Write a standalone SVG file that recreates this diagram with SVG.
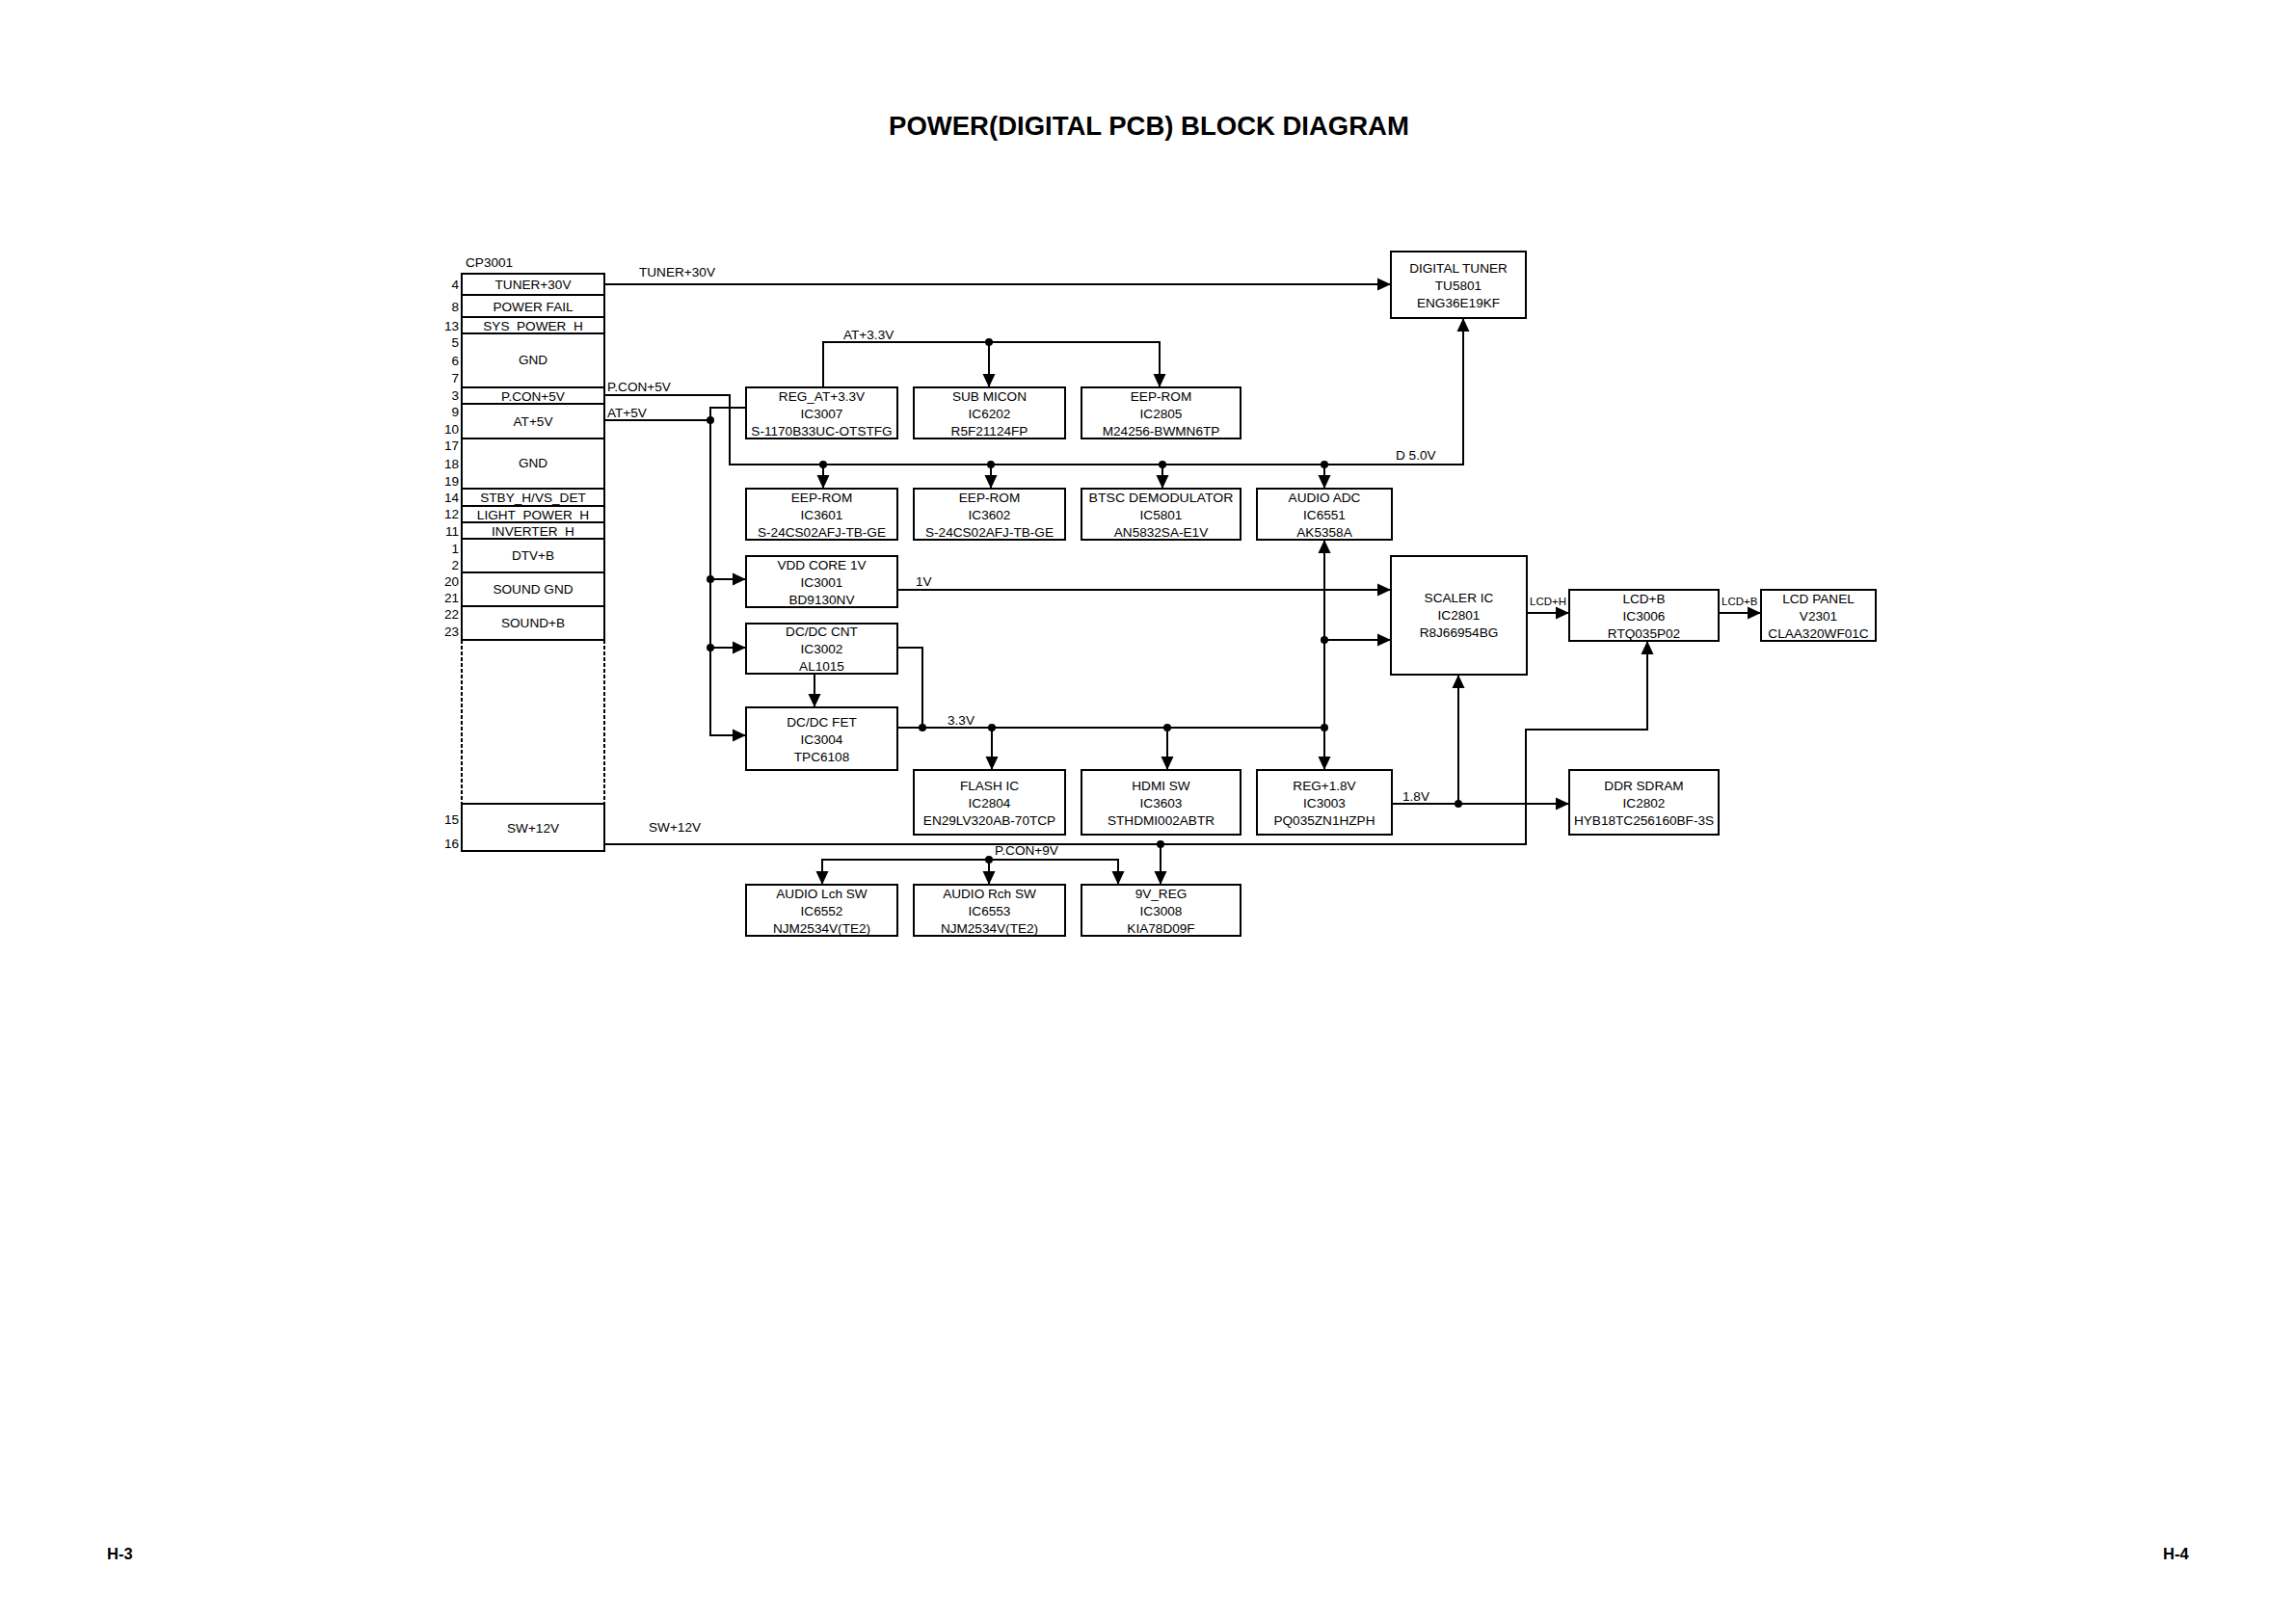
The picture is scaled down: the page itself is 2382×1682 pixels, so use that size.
<svg xmlns="http://www.w3.org/2000/svg" width="2382" height="1682" viewBox="0 0 2382 1682">
<style>
.b{fill:#fff;stroke:#000;stroke-width:2}
text{font-family:"Liberation Sans",Arial,sans-serif;font-size:13.6px;fill:#000}
.m text,.m{text-anchor:middle}
.r{text-anchor:end}
.w{fill:none;stroke:#000;stroke-width:2}
.s{font-size:11.5px}
.h{font-weight:bold}
</style>
<defs>
<marker id="ar" markerWidth="14" markerHeight="14" refX="14" refY="7" orient="auto" markerUnits="userSpaceOnUse"><path d="M0,0.5 L14,7 L0,13.5 z" fill="#000"/></marker>
</defs>
<rect width="2382" height="1682" fill="#fff"/>
<text x="1192" y="140" class="h m" style="font-size:27.5px">POWER(DIGITAL PCB) BLOCK DIAGRAM</text>
<text x="111" y="1618" class="h" style="font-size:16.5px">H-3</text>
<text x="2244" y="1618" class="h" style="font-size:16.5px">H-4</text>

<g id="CP3001">
<text x="483" y="277">CP3001</text>
<rect class="b" x="479" y="284" width="148" height="22"/>
<rect class="b" x="479" y="306" width="148" height="23"/>
<rect class="b" x="479" y="329" width="148" height="17"/>
<rect class="b" x="479" y="346" width="148" height="56"/>
<rect class="b" x="479" y="402" width="148" height="17"/>
<rect class="b" x="479" y="419" width="148" height="36"/>
<rect class="b" x="479" y="455" width="148" height="52"/>
<rect class="b" x="479" y="507" width="148" height="18"/>
<rect class="b" x="479" y="525" width="148" height="17"/>
<rect class="b" x="479" y="542" width="148" height="17"/>
<rect class="b" x="479" y="559" width="148" height="35"/>
<rect class="b" x="479" y="594" width="148" height="35"/>
<rect class="b" x="479" y="629" width="148" height="35"/>
<path d="M479,664 V834 M627,664 V834" stroke="#000" stroke-width="2" stroke-dasharray="4 2"/>
<rect class="b" x="479" y="834" width="148" height="49"/>
<g class="m">
<text x="553" y="300">TUNER+30V</text>
<text x="553" y="322.5">POWER FAIL</text>
<text x="553" y="342.5">SYS_POWER_H</text>
<text x="553" y="378">GND</text>
<text x="553" y="415.5">P.CON+5V</text>
<text x="553" y="442">AT+5V</text>
<text x="553" y="485">GND</text>
<text x="553" y="521">STBY_H/VS_DET</text>
<text x="553" y="538.5">LIGHT_POWER_H</text>
<text x="553" y="555.5">INVERTER_H</text>
<text x="553" y="581">DTV+B</text>
<text x="553" y="616">SOUND GND</text>
<text x="553" y="651">SOUND+B</text>
<text x="553" y="863.5">SW+12V</text>
</g>
<g class="r">
<text x="476" y="300">4</text>
<text x="476" y="323">8</text>
<text x="476" y="343">13</text>
<text x="476" y="360">5</text>
<text x="476" y="379">6</text>
<text x="476" y="397">7</text>
<text x="476" y="415">3</text>
<text x="476" y="432">9</text>
<text x="476" y="450">10</text>
<text x="476" y="467">17</text>
<text x="476" y="486">18</text>
<text x="476" y="504">19</text>
<text x="476" y="521">14</text>
<text x="476" y="538">12</text>
<text x="476" y="556">11</text>
<text x="476" y="574">1</text>
<text x="476" y="591">2</text>
<text x="476" y="608">20</text>
<text x="476" y="625">21</text>
<text x="476" y="642">22</text>
<text x="476" y="660">23</text>
<text x="476" y="855">15</text>
<text x="476" y="880">16</text>
</g>
</g>

<g id="connectors">
<path class="w" d="M627,295 H1443" marker-end="url(#ar)"/>
<path class="w" d="M627,410 H757 V482 H1518 V330" marker-end="url(#ar)"/>
<path class="w" d="M854,482 V507" marker-end="url(#ar)"/>
<path class="w" d="M1028,482 V507" marker-end="url(#ar)"/>
<path class="w" d="M1206,482 V507" marker-end="url(#ar)"/>
<path class="w" d="M1374,482 V507" marker-end="url(#ar)"/>
<path class="w" d="M627,436 H737"/>
<path class="w" d="M774,423 H737 V763 H774" marker-end="url(#ar)"/>
<path class="w" d="M737,601 H774" marker-end="url(#ar)"/>
<path class="w" d="M737,672 H774" marker-end="url(#ar)"/>
<path class="w" d="M854,402 V355 H1203 V402" marker-end="url(#ar)"/>
<path class="w" d="M1026,355 V402" marker-end="url(#ar)"/>
<path class="w" d="M931,612 H1443" marker-end="url(#ar)"/>
<path class="w" d="M931,672 H957 V755"/>
<path class="w" d="M845,699 V734" marker-end="url(#ar)"/>
<path class="w" d="M931,755 H1374"/>
<path class="w" d="M1029,755 V799" marker-end="url(#ar)"/>
<path class="w" d="M1211,755 V799" marker-end="url(#ar)"/>
<path class="w" d="M1374,755 V799" marker-end="url(#ar)"/>
<path class="w" d="M1374,755 V560" marker-end="url(#ar)"/>
<path class="w" d="M1374,664 H1443" marker-end="url(#ar)"/>
<path class="w" d="M1444,834 H1628" marker-end="url(#ar)"/>
<path class="w" d="M1513,834 V700" marker-end="url(#ar)"/>
<path class="w" d="M627,876 H1583 V757 H1709 V665" marker-end="url(#ar)"/>
<path class="w" d="M1204,876 V918" marker-end="url(#ar)"/>
<path class="w" d="M1584,636 H1628" marker-end="url(#ar)"/>
<path class="w" d="M1783,636 H1827" marker-end="url(#ar)"/>
<path class="w" d="M1026,892 H853 V918" marker-end="url(#ar)"/>
<path class="w" d="M1026,892 H1160 V918" marker-end="url(#ar)"/>
<path class="w" d="M1026,892 V918" marker-end="url(#ar)"/>
<g fill="#000">
<circle cx="854" cy="482" r="4"/>
<circle cx="1028" cy="482" r="4"/>
<circle cx="1206" cy="482" r="4"/>
<circle cx="1374" cy="482" r="4"/>
<circle cx="737" cy="436" r="4"/>
<circle cx="737" cy="601" r="4"/>
<circle cx="737" cy="672" r="4"/>
<circle cx="1026" cy="355" r="4"/>
<circle cx="957" cy="755" r="4"/>
<circle cx="1029" cy="755" r="4"/>
<circle cx="1211" cy="755" r="4"/>
<circle cx="1374" cy="755" r="4"/>
<circle cx="1374" cy="664" r="4"/>
<circle cx="1513" cy="834" r="4"/>
<circle cx="1204" cy="876" r="4"/>
<circle cx="1026" cy="892" r="4"/>
</g>
<text x="663" y="287">TUNER+30V</text>
<text x="630" y="406">P.CON+5V</text>
<text x="630" y="433">AT+5V</text>
<text x="875" y="352">AT+3.3V</text>
<text x="1448" y="477">D 5.0V</text>
<text x="950" y="608">1V</text>
<text x="983" y="752">3.3V</text>
<text x="1455" y="831">1.8V</text>
<text x="673" y="863">SW+12V</text>
<text x="1032" y="887">P.CON+9V</text>
<text x="1587" y="628" class="s">LCD+H</text>
<text x="1786" y="628" class="s">LCD+B</text>
</g>

<g id="tuner" class="m"><rect class="b" x="1443" y="261" width="140" height="69"/><text x="1513" y="282.5">DIGITAL TUNER</text><text x="1513" y="300.5">TU5801</text><text x="1513" y="318.5">ENG36E19KF</text></g>
<g id="ic3007" class="m"><rect class="b" x="774" y="402" width="157" height="53"/><text x="852.5" y="415.5">REG_AT+3.3V</text><text x="852.5" y="433.5">IC3007</text><text x="852.5" y="451.5">S-1170B33UC-OTSTFG</text></g>
<g id="ic6202" class="m"><rect class="b" x="948" y="402" width="157" height="53"/><text x="1026.5" y="415.5">SUB MICON</text><text x="1026.5" y="433.5">IC6202</text><text x="1026.5" y="451.5">R5F21124FP</text></g>
<g id="ic2805" class="m"><rect class="b" x="1122" y="402" width="165" height="53"/><text x="1204.5" y="415.5">EEP-ROM</text><text x="1204.5" y="433.5">IC2805</text><text x="1204.5" y="451.5">M24256-BWMN6TP</text></g>
<g id="ic3601" class="m"><rect class="b" x="774" y="507" width="157" height="53"/><text x="852.5" y="520.5">EEP-ROM</text><text x="852.5" y="538.5">IC3601</text><text x="852.5" y="556.5">S-24CS02AFJ-TB-GE</text></g>
<g id="ic3602" class="m"><rect class="b" x="948" y="507" width="157" height="53"/><text x="1026.5" y="520.5">EEP-ROM</text><text x="1026.5" y="538.5">IC3602</text><text x="1026.5" y="556.5">S-24CS02AFJ-TB-GE</text></g>
<g id="ic5801" class="m"><rect class="b" x="1122" y="507" width="165" height="53"/><text x="1204.5" y="520.5" textLength="150" lengthAdjust="spacingAndGlyphs">BTSC DEMODULATOR</text><text x="1204.5" y="538.5">IC5801</text><text x="1204.5" y="556.5">AN5832SA-E1V</text></g>
<g id="ic6551" class="m"><rect class="b" x="1304" y="507" width="140" height="53"/><text x="1374" y="520.5">AUDIO ADC</text><text x="1374" y="538.5">IC6551</text><text x="1374" y="556.5">AK5358A</text></g>
<g id="ic3001" class="m"><rect class="b" x="774" y="577" width="157" height="53"/><text x="852.5" y="590.5">VDD CORE 1V</text><text x="852.5" y="608.5">IC3001</text><text x="852.5" y="626.5">BD9130NV</text></g>
<g id="ic3002" class="m"><rect class="b" x="774" y="647" width="157" height="52"/><text x="852.5" y="660">DC/DC CNT</text><text x="852.5" y="678">IC3002</text><text x="852.5" y="696">AL1015</text></g>
<g id="ic3004" class="m"><rect class="b" x="774" y="734" width="157" height="65"/><text x="852.5" y="753.5">DC/DC FET</text><text x="852.5" y="771.5">IC3004</text><text x="852.5" y="789.5">TPC6108</text></g>
<g id="ic2801" class="m"><rect class="b" x="1443" y="577" width="141" height="123"/><text x="1513.5" y="625">SCALER IC</text><text x="1513.5" y="643">IC2801</text><text x="1513.5" y="661">R8J66954BG</text></g>
<g id="ic3006" class="m"><rect class="b" x="1628" y="612" width="155" height="53"/><text x="1705.5" y="625.5">LCD+B</text><text x="1705.5" y="643.5">IC3006</text><text x="1705.5" y="661.5">RTQ035P02</text></g>
<g id="v2301" class="m"><rect class="b" x="1827" y="612" width="119" height="53"/><text x="1886.5" y="625.5">LCD PANEL</text><text x="1886.5" y="643.5">V2301</text><text x="1886.5" y="661.5">CLAA320WF01C</text></g>
<g id="ic2804" class="m"><rect class="b" x="948" y="799" width="157" height="67"/><text x="1026.5" y="819.5">FLASH IC</text><text x="1026.5" y="837.5">IC2804</text><text x="1026.5" y="855.5">EN29LV320AB-70TCP</text></g>
<g id="ic3603" class="m"><rect class="b" x="1122" y="799" width="165" height="67"/><text x="1204.5" y="819.5">HDMI SW</text><text x="1204.5" y="837.5">IC3603</text><text x="1204.5" y="855.5">STHDMI002ABTR</text></g>
<g id="ic3003" class="m"><rect class="b" x="1304" y="799" width="140" height="67"/><text x="1374" y="819.5">REG+1.8V</text><text x="1374" y="837.5">IC3003</text><text x="1374" y="855.5">PQ035ZN1HZPH</text></g>
<g id="ic2802" class="m"><rect class="b" x="1628" y="799" width="155" height="67"/><text x="1705.5" y="819.5">DDR SDRAM</text><text x="1705.5" y="837.5">IC2802</text><text x="1705.5" y="855.5">HYB18TC256160BF-3S</text></g>
<g id="ic6552" class="m"><rect class="b" x="774" y="918" width="157" height="53"/><text x="852.5" y="931.5">AUDIO Lch SW</text><text x="852.5" y="949.5">IC6552</text><text x="852.5" y="967.5">NJM2534V(TE2)</text></g>
<g id="ic6553" class="m"><rect class="b" x="948" y="918" width="157" height="53"/><text x="1026.5" y="931.5">AUDIO Rch SW</text><text x="1026.5" y="949.5">IC6553</text><text x="1026.5" y="967.5">NJM2534V(TE2)</text></g>
<g id="ic3008" class="m"><rect class="b" x="1122" y="918" width="165" height="53"/><text x="1204.5" y="931.5">9V_REG</text><text x="1204.5" y="949.5">IC3008</text><text x="1204.5" y="967.5">KIA78D09F</text></g>
</svg>
